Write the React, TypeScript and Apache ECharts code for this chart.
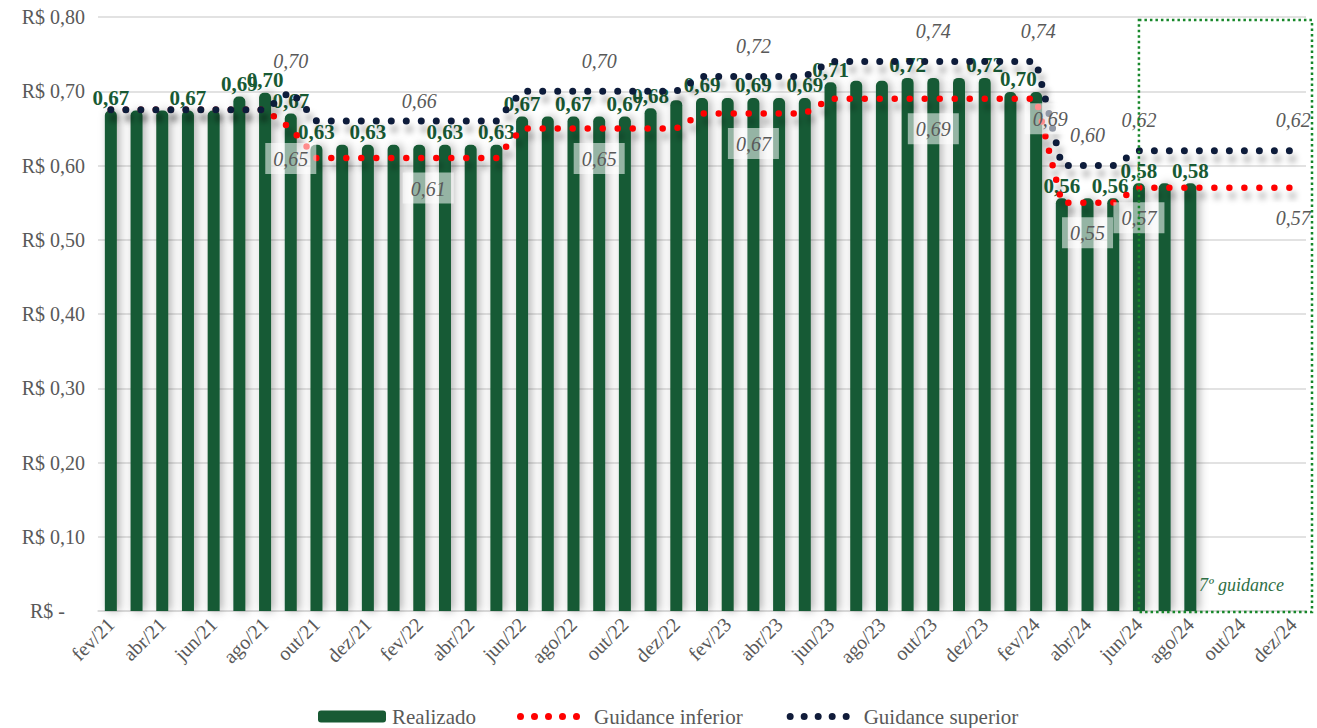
import React, { useEffect, useRef } from 'react';
import * as echarts from 'echarts';

const months = ['fev/21','mar/21','abr/21','mai/21','jun/21','jul/21','ago/21','set/21','out/21','nov/21','dez/21','jan/22','fev/22','mar/22','abr/22','mai/22','jun/22','jul/22','ago/22','set/22','out/22','nov/22','dez/22','jan/23','fev/23','mar/23','abr/23','mai/23','jun/23','jul/23','ago/23','set/23','out/23','nov/23','dez/23','jan/24','fev/24','mar/24','abr/24','mai/24','jun/24','jul/24','ago/24','set/24','out/24','nov/24','dez/24'];

const realizado = [0.674,0.674,0.674,0.674,0.674,0.693,0.698,0.670,0.628,0.628,0.628,0.628,0.628,0.628,0.628,0.628,0.666,0.666,0.666,0.666,0.666,0.677,0.688,0.691,0.691,0.691,0.691,0.691,0.712,0.714,0.714,0.718,0.718,0.718,0.718,0.699,0.699,0.556,0.556,0.556,0.576,0.576,0.576,null,null,null,null];

const guidanceInferior = [0.675,0.675,0.675,0.675,0.675,0.675,0.675,0.65,0.61,0.61,0.61,0.61,0.61,0.61,0.61,0.61,0.65,0.65,0.65,0.65,0.65,0.65,0.65,0.67,0.67,0.67,0.67,0.67,0.69,0.69,0.69,0.69,0.69,0.69,0.69,0.69,0.69,0.55,0.55,0.55,0.57,0.57,0.57,0.57,0.57,0.57,0.57];

const guidanceSuperior = [0.675,0.675,0.675,0.675,0.675,0.675,0.675,0.70,0.66,0.66,0.66,0.66,0.66,0.66,0.66,0.66,0.70,0.70,0.70,0.70,0.70,0.70,0.70,0.72,0.72,0.72,0.72,0.72,0.74,0.74,0.74,0.74,0.74,0.74,0.74,0.74,0.74,0.60,0.60,0.60,0.62,0.62,0.62,0.62,0.62,0.62,0.62];

const barLabelIdx = [0,3,5,6,7,8,10,13,15,16,18,20,21,23,25,27,28,31,34,35,37,39,40,42];
const barLabelOffsets: Record<number, number[]> = { 35: [8, 0], 39: [-3, 0] };
const guidanceLabelIdx = [7,12,19,25,32,36,38,40,46];
const infLabelOffsets = [[0,0],[9,0],[0,0],[0,0],[0,0],[14,-10],[0,0],[0,0],[0,0]];
const supLabelOffsets = [[0,0],[0,11],[0,0],[0,0],[0,0],[2,0],[0,0],[0,0],[0,0]];

const FONT = '"Liberation Serif", "Times New Roman", serif';
const GREY = '#595959';
const RED = '#ff0000';
const NAVY = '#111c3a';
const GREEN = '#185a34';
const fmt = (v: number) => v.toFixed(2).replace('.', ',');

const dotsPath = 'path://M0 3.5a3.5 3.5 0 1 0 7 0a3.5 3.5 0 1 0 -7 0M14 3.5a3.5 3.5 0 1 0 7 0a3.5 3.5 0 1 0 -7 0M28 3.5a3.5 3.5 0 1 0 7 0a3.5 3.5 0 1 0 -7 0M42 3.5a3.5 3.5 0 1 0 7 0a3.5 3.5 0 1 0 -7 0M56 3.5a3.5 3.5 0 1 0 7 0a3.5 3.5 0 1 0 -7 0';

export default function App() {
  const ref = useRef<HTMLDivElement>(null);
  useEffect(() => {
    if (!ref.current) return;
    const chart = echarts.init(ref.current, undefined, { renderer: 'svg' });
    const option: any = {
      animation: false,
      backgroundColor: '#ffffff',
      textStyle: { fontFamily: FONT },
      grid: { left: 98, right: 11, top: 17, bottom: 117, containLabel: false },
      legend: [
        {
          data: ['Realizado'], left: 318, top: 706, padding: 0, itemWidth: 68, itemHeight: 12,
          textStyle: { fontFamily: FONT, fontSize: 21, color: GREY, padding: [0, 0, 0, 1] },
        },
        {
          data: [
            { name: 'Guidance inferior', icon: dotsPath, itemStyle: { color: RED } },
            { name: 'Guidance superior', icon: dotsPath, itemStyle: { color: NAVY } },
          ],
          left: 517, top: 706, padding: 0, itemWidth: 63, itemHeight: 7, itemGap: 44,
          textStyle: { fontFamily: FONT, fontSize: 21, color: GREY, padding: [0, 0, 0, 9] },
        },
      ],
      xAxis: {
        type: 'category', data: months, boundaryGap: true,
        axisLine: { lineStyle: { color: '#d9d9d9', width: 1.5 } },
        axisTick: { show: false },
        axisLabel: { interval: 1, rotate: 45, color: GREY, fontSize: 20, fontFamily: FONT, margin: 10 },
      },
      yAxis: {
        type: 'value', min: 0, max: 0.8, interval: 0.1,
        axisLine: { show: false }, axisTick: { show: false },
        splitLine: { lineStyle: { color: '#d9d9d9', width: 1.5 } },
        axisLabel: {
          color: GREY, fontSize: 20, fontFamily: FONT, margin: 13,
          formatter: (v: number) => (v === 0 ? 'R$ -\u00a0\u00a0\u00a0\u00a0' : 'R$ ' + fmt(v)),
        },
      },
      series: [
        {
          name: 'Realizado', type: 'bar', barWidth: 12,
          itemStyle: {
            color: GREEN, borderRadius: [5, 5, 0, 0],
            shadowColor: 'rgba(0,0,0,0.3)', shadowBlur: 10, shadowOffsetX: 3,
          },
          label: {
            show: false, position: 'top', distance: 2, color: GREEN, fontWeight: 'bold',
            fontSize: 21, fontFamily: FONT, formatter: (p: any) => fmt(p.value),
          },
          data: realizado.map((v, i) =>
            v == null ? '-' : barLabelIdx.includes(i)
              ? { value: v, label: { show: true, offset: barLabelOffsets[i] || [0, 0] } }
              : v
          ),
        },
        {
          name: 'Guidance inferior', type: 'line', symbol: 'circle', symbolSize: 1, showSymbol: true,
          itemStyle: { color: 'rgba(0,0,0,0)' },
          lineStyle: {
            color: RED, width: 6.5, type: [0, 15], cap: 'round',
            shadowColor: 'rgba(0,0,0,0.35)', shadowBlur: 6, shadowOffsetY: 8, shadowOffsetX: 3,
          },
          label: {
            show: false, position: 'bottom', distance: 14, color: GREY, fontStyle: 'italic',
            fontSize: 20, fontFamily: FONT, backgroundColor: 'rgba(255,255,255,0.55)', padding: [6, 8, 5, 8],
            formatter: (p: any) => fmt(p.value),
          },
          data: guidanceInferior.map((v, i) => {
            const k = guidanceLabelIdx.indexOf(i);
            return k < 0 ? v : { value: v, label: { show: true, offset: infLabelOffsets[k] } };
          }),
        },
        {
          name: 'Guidance superior', type: 'line', symbol: 'circle', symbolSize: 1, showSymbol: true,
          itemStyle: { color: 'rgba(0,0,0,0)' },
          lineStyle: {
            color: NAVY, width: 7, type: [0, 15], cap: 'round',
            shadowColor: 'rgba(0,0,0,0.35)', shadowBlur: 6, shadowOffsetY: 8, shadowOffsetX: 3,
          },
          label: {
            show: false, position: 'top', distance: 20, color: GREY, fontStyle: 'italic',
            fontSize: 20, fontFamily: FONT, formatter: (p: any) => fmt(p.value),
          },
          data: guidanceSuperior.map((v, i) => {
            const k = guidanceLabelIdx.indexOf(i);
            return k < 0 ? v : { value: v, label: { show: true, offset: supLabelOffsets[k] } };
          }),
        },
      ],
    };
    chart.setOption(option);
    const x0 = chart.convertToPixel({ xAxisIndex: 0 }, 'jun/24') as number;
    const yTop = chart.convertToPixel({ yAxisIndex: 0 }, 0.8) as number;
    const yBot = chart.convertToPixel({ yAxisIndex: 0 }, 0) as number;
    const xRight = chart.getWidth() - 5;
    chart.setOption({
      graphic: [
        {
          type: 'rect', z: 100,
          shape: { x: x0, y: yTop + 3, width: xRight - x0, height: yBot - yTop - 2 },
          style: { fill: 'none', stroke: '#17872a', lineWidth: 2.5, lineDash: [2.5, 3] },
        },
        {
          type: 'text', z: 100, x: x0 + 60, y: yBot - 26,
          style: { text: '7º guidance', fill: '#2f6f46', font: 'italic 18px "Liberation Serif"', verticalAlign: 'middle' },
        },
      ],
    });
    return () => chart.dispose();
  }, []);
  return <div ref={ref} style={{ position: 'fixed', left: 0, top: 0, width: 1317, height: 728 }} />;
}
